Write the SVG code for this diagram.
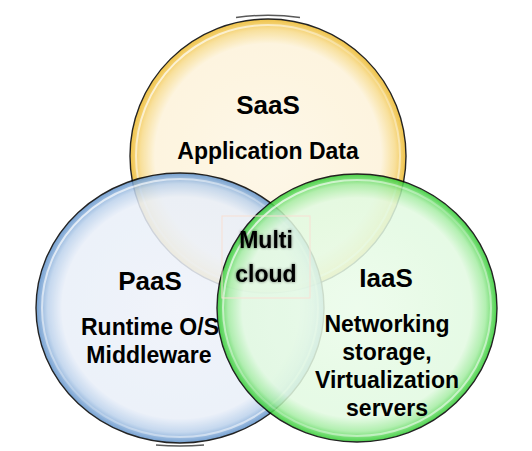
<svg xmlns="http://www.w3.org/2000/svg" width="532" height="451" viewBox="0 0 532 451">
<defs>
<radialGradient id="gY" cx="50%" cy="50%" r="50%">
<stop offset="0" stop-color="#fdf6e4"/>
<stop offset="0.82" stop-color="#fdf3da"/>
<stop offset="0.92" stop-color="#f8dc8e"/>
<stop offset="1" stop-color="#edb92a"/>
</radialGradient>
<radialGradient id="gB" cx="50%" cy="50%" r="50%">
<stop offset="0" stop-color="#eff3fa"/>
<stop offset="0.82" stop-color="#e9eff9"/>
<stop offset="0.92" stop-color="#bcd2ec"/>
<stop offset="1" stop-color="#5f92cb"/>
</radialGradient>
<radialGradient id="gG" cx="50%" cy="50%" r="50%">
<stop offset="0" stop-color="#ebfcea"/>
<stop offset="0.82" stop-color="#e2fae1"/>
<stop offset="0.92" stop-color="#a6eda4"/>
<stop offset="1" stop-color="#2fcb2f"/>
</radialGradient>
<linearGradient id="hl" x1="0" y1="0" x2="1" y2="1">
<stop offset="0" stop-color="#fff" stop-opacity="0.9"/>
<stop offset="0.5" stop-color="#fff" stop-opacity="0.2"/>
<stop offset="1" stop-color="#fff" stop-opacity="0.7"/>
</linearGradient>
<filter id="glow" x="-20%" y="-20%" width="140%" height="140%">
<feGaussianBlur in="SourceAlpha" stdDeviation="1.6"/>
<feComponentTransfer><feFuncA type="linear" slope="0.55"/></feComponentTransfer>
<feMerge><feMergeNode/><feMergeNode in="SourceGraphic"/></feMerge>
</filter>
</defs>
<style>
.c{stroke:#000;stroke-width:1.4;opacity:0.86}
.h{fill:none;stroke:url(#hl);stroke-width:2}
.t{font-family:"Liberation Sans",Arial,sans-serif;font-weight:bold;fill:#000;text-anchor:middle}
.big{font-size:26px}
.sm{font-size:23px}
</style>
<rect width="532" height="451" fill="#fff"/>
<g id="saas">
<path d="M236,17.5 Q268,13 300,17.5" fill="none" stroke="#222" stroke-width="1.6" opacity="0.75"/>
<ellipse class="c" cx="268" cy="156" rx="138" ry="137" fill="url(#gY)"/>
<ellipse class="h" cx="268" cy="156" rx="132" ry="131"/>
<text class="t big" x="268" y="114">SaaS</text>
<text class="t sm" x="268" y="159">Application Data</text>
</g>
<g id="paas">
<ellipse class="c" cx="180" cy="308" rx="144" ry="135" fill="url(#gB)"/>
<ellipse class="h" cx="180" cy="308" rx="138" ry="129"/>
<path d="M156,445 Q180,447 204,445" fill="none" stroke="#222" stroke-width="1.6" opacity="0.75"/>
<text class="t big" x="150" y="290">PaaS</text>
<text class="t sm" x="150" y="335">Runtime O/S</text>
<text class="t sm" x="149" y="363">Middleware</text>
</g>
<g id="iaas">
<ellipse class="c" cx="357" cy="308" rx="140" ry="134" fill="url(#gG)"/>
<ellipse class="h" cx="357" cy="308" rx="134" ry="128"/>
<text class="t big" x="386" y="287">IaaS</text>
<text class="t sm" x="387" y="332">Networking</text>
<text class="t sm" x="387" y="360">storage,</text>
<text class="t sm" x="387" y="388">Virtualization</text>
<text class="t sm" x="387" y="416">servers</text>
</g>
<g id="multicloud">
<rect x="222" y="216" width="88" height="82" fill="none" stroke="#f8e0d4" stroke-width="1"/>
<g filter="url(#glow)">
<text class="t sm" x="266" y="248">Multi</text>
<text class="t sm" x="266" y="282">cloud</text>
</g>
</g>
<g id="connectors"/>
</svg>
